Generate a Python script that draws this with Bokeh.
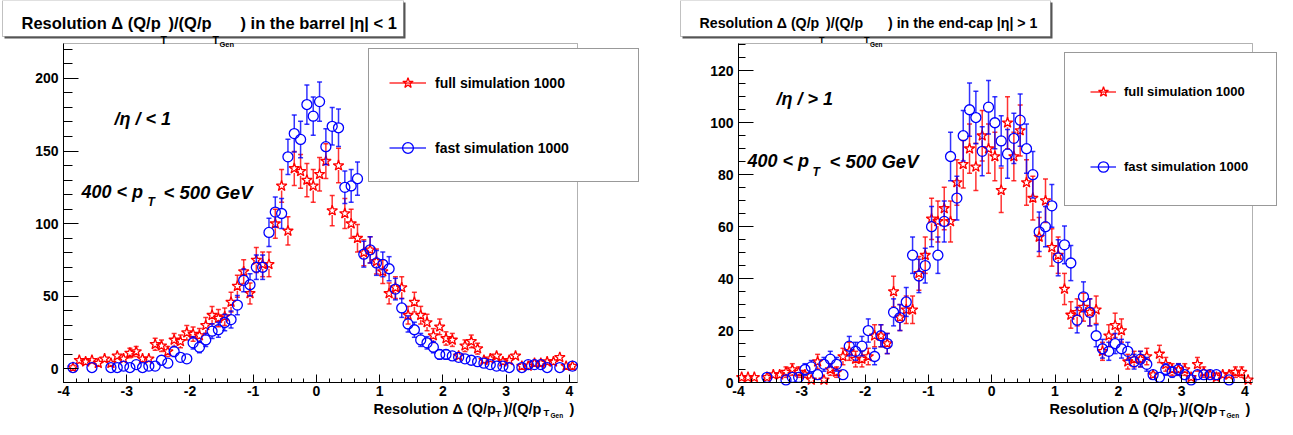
import math
from bokeh.plotting import figure
from bokeh.models import (Range1d, FixedTicker, Label, BoxAnnotation, Legend, LegendItem,
                          LinearAxis)
from bokeh.layouts import row
from bokeh.embed import file_html
from bokeh.resources import INLINE

FONT = "Liberation Sans"

# ---------------- data (bins of width 0.1, centres -3.95 ... 4.05) ----------------
bin_centers = [round(-3.95 + 0.1 * i, 2) for i in range(81)]

barrel_full = [None, 1, 6, 5, 6, 4, 7, 4, 9, 7,
               11, 12, 7, 7, 17, 16, 12, 20, 19, 25,
               24, 23, 30, 37, 35, 36, 46, 57, 67, 52,
               75, 72, 72, 100, 126, 95, 138, 136, 130, 126,
               134, 143, 109, 140, 107, 100, 90, 80, 82, 74,
               67, 52, 56, 56, 37, 46, 37, 32, 23, 29,
               21, 20, 9, 16, 19, 14, 6, 7, 9, 5,
               6, 9, 2, 2, 4, 4, 5, 5, 8, 2,
               2]
barrel_fast = [None, 1, None, None, 1, None, None, 1, 1, 2,
               1, 3, 1, 2, 2, 6, 4, 12, 8, 7,
               18, 15, 20, 26, 27, 32, 34, 44, 61, 58,
               70, 70, 94, 108, 107, 146, 162, 158, 182, 174,
               184, 153, 167, 166, 125, 126, 131, 79, 82, 73,
               72, 69, 55, 42, 31, 27, 20, 18, 15, 10,
               10, 9, 8, 7, 6, 5, 4, 3, 2, 2,
               1, None, 1, 3, 3, 3, 1, None, 1, None,
               2]
endcap_full = [2, 2, 2, None, 2, 3, 3, 4, 5, 4,
               3, 1, 8, 1, 5, 4, 10, 12, 9, 9,
               10, 18, 18, 15, 35, 25, 28, 28, 42, 49,
               63, 62, 67, 62, 77, 84, 90, 83, 95, 90,
               87, 74, 100, 87, 97, 77, 71, 56, 70, 52,
               49, 36, 26, 27, 29, 27, 28, 12, 18, 22,
               20, 8, 9, 9, 10, 3, 11, 7, 5, 5,
               5, 2, 7, 4, 3, 2, 3, 3, 4, 4,
               1]
endcap_fast = [None, None, None, None, 2, None, None, 1, 2, 2,
               5, 6, 3, 7, 9, 7, 3, 14, 12, 14,
               20, 10, 18, 15, 27, 25, 31, 49, 41, 45,
               60, 49, 62, 87, 71, 95, 105, 102, 89, 106,
               100, 93, 88, 94, 101, 90, 80, 58, 60, 68,
               48, 53, 46, 24, 33, 27, 18, 13, 12, 15,
               13, 12, 8, 9, 7, 3, 2, 5, 4, 5,
               3, 1, 3, 3, 3, 3, None, 1, None, None,
               None]

x_ticks = [-4, -3, -2, -1, 0, 1, 2, 3, 4]
barrel_y_ticks = [0, 50, 100, 150, 200]
endcap_y_ticks = [0, 20, 40, 60, 80, 100, 120]

legend_labels = ["full simulation 1000", "fast simulation 1000"]

RED = "#ff0000"
BLUE = "#0000ff"

H = 419                 # canvas height
FR_TOP, FR_BOT = 43, 382  # inner frame rows (canvas px)
MARKER_R_PX = 4.5


def add_series(p, xs, vals, color, marker, size, r_data):
    px, py = [], []
    x0, y0, x1, y1 = [], [], [], []
    cx, cy = [], []
    for x, v in zip(xs, vals):
        if v is None:
            continue
        px.append(x)
        py.append(v)
        e = math.sqrt(v)
        if e > r_data:
            x0 += [x, x]
            x1 += [x, x]
            y0 += [v + r_data, v - r_data]
            y1 += [v + e, v - e]
            cx += [x, x]
            cy += [v + e, v - e]
    seg = p.segment(x0=x0, y0=y0, x1=x1, y1=y1, line_color=color,
                    line_width=1.5, line_alpha=0.8)
    p.scatter(cx, cy, marker="dash", size=5, line_color=color,
              line_width=1.5, line_alpha=0.8)
    pts = p.scatter(px, py, marker=marker, size=size, line_color=color,
                    fill_alpha=0, line_width=1.3)
    return seg, pts


def make_fig(W, fr_left, fr_right, x_lo, x_hi, y_lo, y_hi, y_ticks, y_minor_step, y_minor_in):
    ppx = (fr_right - fr_left) / (x_hi - x_lo)
    ppy = (FR_BOT - FR_TOP) / (y_hi - y_lo)
    xr = Range1d(x_lo - fr_left / ppx, x_hi + (W - fr_right) / ppx)
    yr = Range1d(y_lo - (H - FR_BOT) / ppy, y_hi + FR_TOP / ppy)
    p = figure(width=W, height=H, x_range=xr, y_range=yr, title=None,
               x_axis_location=None, y_axis_location=None,
               output_backend="svg", toolbar_location=None, min_border=0)
    p.grid.visible = False
    p.outline_line_color = None
    p.background_fill_color = "white"
    p.border_fill_color = "white"

    xminor = [round(-4 + 0.2 * k, 1) for k in range(41)]
    xax = LinearAxis(fixed_location=y_lo, bounds=(x_lo, x_hi),
                     ticker=FixedTicker(ticks=x_ticks, minor_ticks=xminor),
                     major_label_overrides={t: str(t) for t in x_ticks})
    nmin = int(y_hi // y_minor_step) + 1
    yminor = [y_minor_step * k for k in range(nmin)]
    yax = LinearAxis(fixed_location=x_lo, bounds=(y_lo, y_hi),
                     ticker=FixedTicker(ticks=y_ticks, minor_ticks=yminor),
                     major_label_overrides={t: str(t) for t in y_ticks})
    for ax in (xax, yax):
        ax.axis_line_color = "black"
        ax.axis_line_width = 1
        ax.major_tick_out = 0
        ax.minor_tick_out = 0
        ax.major_tick_line_color = "black"
        ax.minor_tick_line_color = "black"
        ax.major_label_text_font = FONT
        ax.major_label_text_font_style = "bold"
        ax.major_label_text_font_size = "14px"
        ax.major_label_text_color = "black"
    xax.major_tick_in = 8
    xax.minor_tick_in = 4
    xax.major_label_standoff = 3
    yax.major_tick_in = 15
    yax.minor_tick_in = y_minor_in
    yax.major_label_standoff = 5
    p.add_layout(xax, "below")
    p.add_layout(yax, "left")
    # frame of the pad
    p.add_layout(BoxAnnotation(left=x_lo, right=x_hi, bottom=y_lo, top=y_hi,
                               fill_color=None, fill_alpha=0,
                               line_color="black", line_width=1))
    return p, ppy


def put(p, OX, X, Y, text, size, style="bold"):
    p.add_layout(Label(x=X - OX, y=H - Y, x_units="screen", y_units="screen",
                       text=text, text_font=FONT, text_font_size=f"{size}px",
                       text_font_style=style, text_color="black",
                       text_baseline="alphabetic", text_align="left"))


def box(p, OX, L, R, T, B):
    p.add_layout(BoxAnnotation(left=L - OX + 2, right=R - OX + 2,
                               top=H - T - 2, bottom=H - B - 2,
                               left_units="screen", right_units="screen",
                               top_units="screen", bottom_units="screen",
                               fill_color="#555555", fill_alpha=1, line_color=None))
    p.add_layout(BoxAnnotation(left=L - OX, right=R - OX, top=H - T, bottom=H - B,
                               left_units="screen", right_units="screen",
                               top_units="screen", bottom_units="screen",
                               fill_color="white", fill_alpha=1,
                               line_color="#333333", line_width=1))


def title(p, OX, X0, tail, s):
    f = s / 16.5
    put(p, OX, X0, 22, "Resolution \u0394 (Q/p", s)
    put(p, OX, X0 + 139 * f, 39, "T", 10.5 * f)
    put(p, OX, X0 + 147 * f, 22, ")/(Q/p", s)
    put(p, OX, X0 + 191 * f, 39, "T", 10.5 * f)
    put(p, OX, X0 + 198 * f, 43.5, "Gen", 7.5 * f)
    put(p, OX, X0 + 219 * f, 22, tail, s)


def xtitle(p, OX, X0):
    put(p, OX, X0, 408, "Resolution \u0394 (Q/p", 14.5)
    put(p, OX, X0 + 122, 413, "T", 9.5)
    put(p, OX, X0 + 130, 408, ")/(Q/p", 14.5)
    put(p, OX, X0 + 170, 412, "T", 9.5)
    put(p, OX, X0 + 177, 415, "Gen", 6.5)
    put(p, OX, X0 + 196, 408, ")", 14.5)


def make_legend(p, items, loc, padding, spacing, gw, lw, standoff, fsize):
    leg = Legend(items=[LegendItem(label=lab, renderers=list(r)) for lab, r in items],
                 location=loc, orientation="vertical", padding=padding, spacing=spacing,
                 margin=0, glyph_width=gw, glyph_height=27, label_height=27,
                 label_width=lw, label_standoff=standoff,
                 label_text_font=FONT, label_text_font_style="bold",
                 label_text_font_size=f"{fsize}px", label_text_color="black",
                 border_line_color="#333333", border_line_width=1.5,
                 background_fill_color="white", background_fill_alpha=1)
    p.add_layout(leg)


# ---------------- left panel: barrel ----------------
OX1 = 0
p1, ppy1 = make_fig(650, 63, 577, -4, 4.13, -9.3, 224, barrel_y_ticks, 10, 9)
r1 = MARKER_R_PX / ppy1
s_full1 = add_series(p1, bin_centers, barrel_full, RED, "star", 11, r1)
s_fast1 = add_series(p1, bin_centers, barrel_fast, BLUE, "circle", 10, r1)
make_legend(p1, [(legend_labels[0], s_full1), (legend_labels[1], s_fast1)],
            (368, H - 182), 20, 38, 37, 183, 9, 14)
box(p1, OX1, 2, 403, 0, 36)
title(p1, OX1, 21, ") in the barrel |\u03b7| < 1", 16.5)
put(p1, OX1, 114, 118.3, "/\u03b7 / < 1", 18, "bold italic")
put(p1, OX1, 81, 191.7, "400 < p", 18, "bold italic")
put(p1, OX1, 147, 201.7, "T", 12, "bold italic")
put(p1, OX1, 163, 191.7, "< 500 GeV", 18.5, "bold italic")
xtitle(p1, OX1, 373)

# ---------------- right panel: end-cap ----------------
OX2 = 650
p2, ppy2 = make_fig(627, 738 - OX2, 1252 - OX2, -4, 4.12, 0, 130.5, endcap_y_ticks, 5, 7)
r2 = MARKER_R_PX / ppy2
s_full2 = add_series(p2, bin_centers, endcap_full, RED, "star", 11, r2)
s_fast2 = add_series(p2, bin_centers, endcap_fast, BLUE, "circle", 10, r2)
make_legend(p2, [(legend_labels[0], s_full2), (legend_labels[1], s_fast2)],
            (1064 - OX2, H - 206), 25, 48, 26, 127, 8, 13)
box(p2, OX2, 680, 1050, 0, 36)
title(p2, OX2, 699, ") in the end-cap |\u03b7| > 1", 14.2)
put(p2, OX2, 776, 98.3, "/\u03b7 / > 1", 18, "bold italic")
put(p2, OX2, 747, 160.7, "400 < p", 18, "bold italic")
put(p2, OX2, 812, 171, "T", 12, "bold italic")
put(p2, OX2, 829, 160.7, "< 500 GeV", 18.5, "bold italic")
xtitle(p2, OX2, 1049)

layout = row(p1, p2, spacing=0)
open("out.html", "w").write(file_html(layout, INLINE))
